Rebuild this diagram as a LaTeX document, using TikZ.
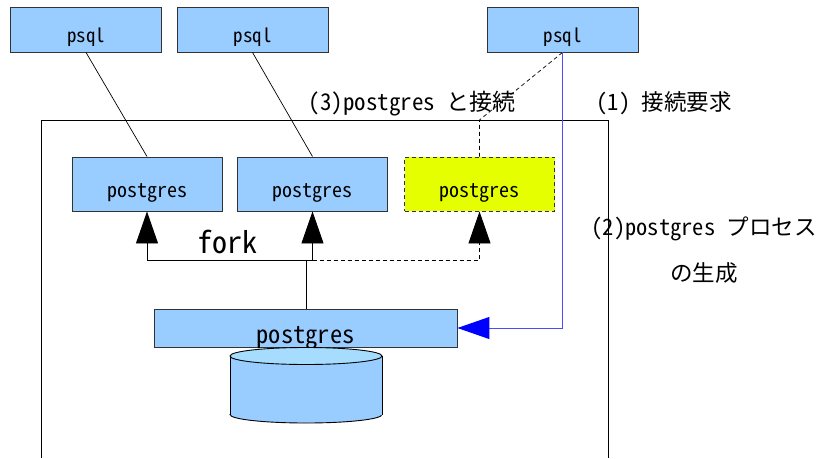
\documentclass[tikz,border=0pt]{standalone}
\usepackage{fontspec}
\setmainfont{Noto Sans CJK JP}
\newfontfamily\hw{Noto Sans CJK JP}[RawFeature=+hwid]
\usepackage{tikz}
\usetikzlibrary{calc,positioning,arrows.meta}
\definecolor{boxblue}{RGB}{153,204,255}
\definecolor{toplue}{RGB}{166,221,255}
\definecolor{newyellow}{RGB}{230,255,0}
\definecolor{edge}{RGB}{51,51,51}
\tikzset{
  clientbox/.style={draw=edge, fill=boxblue, line width=0.9pt, minimum width=151pt, minimum height=45pt,
    inner sep=0pt, text height=25pt, text depth=0pt, font=\hw\fontsize{19}{19}\selectfont},
  procbox/.style={clientbox, minimum width=150pt, minimum height=54pt, text height=26pt,
    font=\hw\fontsize{20}{20}\selectfont},
  forkarrow/.style={line width=0.9pt, -{Triangle[length=32pt,width=22pt]}},
  smalldash/.style={dash pattern=on 4pt off 3pt}
}
\begin{document}
\begin{tikzpicture}[x=1pt, y=-1pt]
    \useasboundingbox (0,0) rectangle (829,458);
    \draw[line width=0.9pt] (41,458) -- (41,120) -- (608,120) -- (608,458);

    \node[clientbox] (psqla) at (86,29.5) {psql};
    \node[clientbox] (psqlb) at (252.5,29.5) {psql};
    \node[clientbox] (psqlc) at (562.5,29.5) {psql};

    \node[procbox] (pga) at (147,184) {postgres};
    \node[procbox] (pgb) at (312.5,184) {postgres};
    \node[procbox, fill=newyellow, smalldash] (pgc) at (479.5,184) {postgres};

    \node[procbox, minimum width=303pt, minimum height=38pt, text height=30pt,
      font=\hw\fontsize{24.5}{24.5}\selectfont] (master) at (305.5,328) {postgres};

    % cylinder
    \filldraw[fill=boxblue, line width=0.9pt] (306,414.5) ellipse [x radius=76pt, y radius=8.5pt];
    \fill[boxblue] (230,356) rectangle (382,414.5);
    \draw[line width=0.9pt] (230,356) -- (230,414.5) (382,356) -- (382,414.5);
    \filldraw[fill=toplue, line width=0.9pt] (306,356) ellipse [x radius=76pt, y radius=8.5pt];

    \draw[line width=0.7pt] (psqla.south) -- (pga.north);
    \draw[line width=0.7pt] (psqlb.south) -- (pgb.north);
    \coordinate (bend) at (pgc.north |- 0,120);
    \draw[line width=0.7pt, smalldash] (psqlc.south) -- (bend) -- (pgc.north);

    \coordinate (split) at (306,260);
    \draw[line width=0.9pt] (master.north -| split) -- (split);
    \draw[forkarrow] (split) -| (pga.south);
    \draw[forkarrow] (split) -| (pgb.south);
    \draw[forkarrow, smalldash] (pgb.south |- split) -| (pgc.south);
    \node[font=\hw\fontsize{30}{30}\selectfont] (forklbl) at (227,242) {fork};

    \draw[blue!70, line width=1pt, -{Triangle[length=32pt,width=22pt,color=blue]}] (psqlc.south) |- (master.east);

    \node[font=\fontsize{23}{23}\selectfont] (connlbl) at (412,104) {{\hw (3)postgres }と接続};
    \node[font=\fontsize{22.5}{22.5}\selectfont] (reqlbl) at (664,103) {{\hw (1) }接続要求};
    \node[font=\fontsize{22.5}{46}\selectfont, align=center] (spawnlbl) at (704,250) {{\hw (2)postgres }プロセス\\の生成};
\end{tikzpicture}
\end{document}
